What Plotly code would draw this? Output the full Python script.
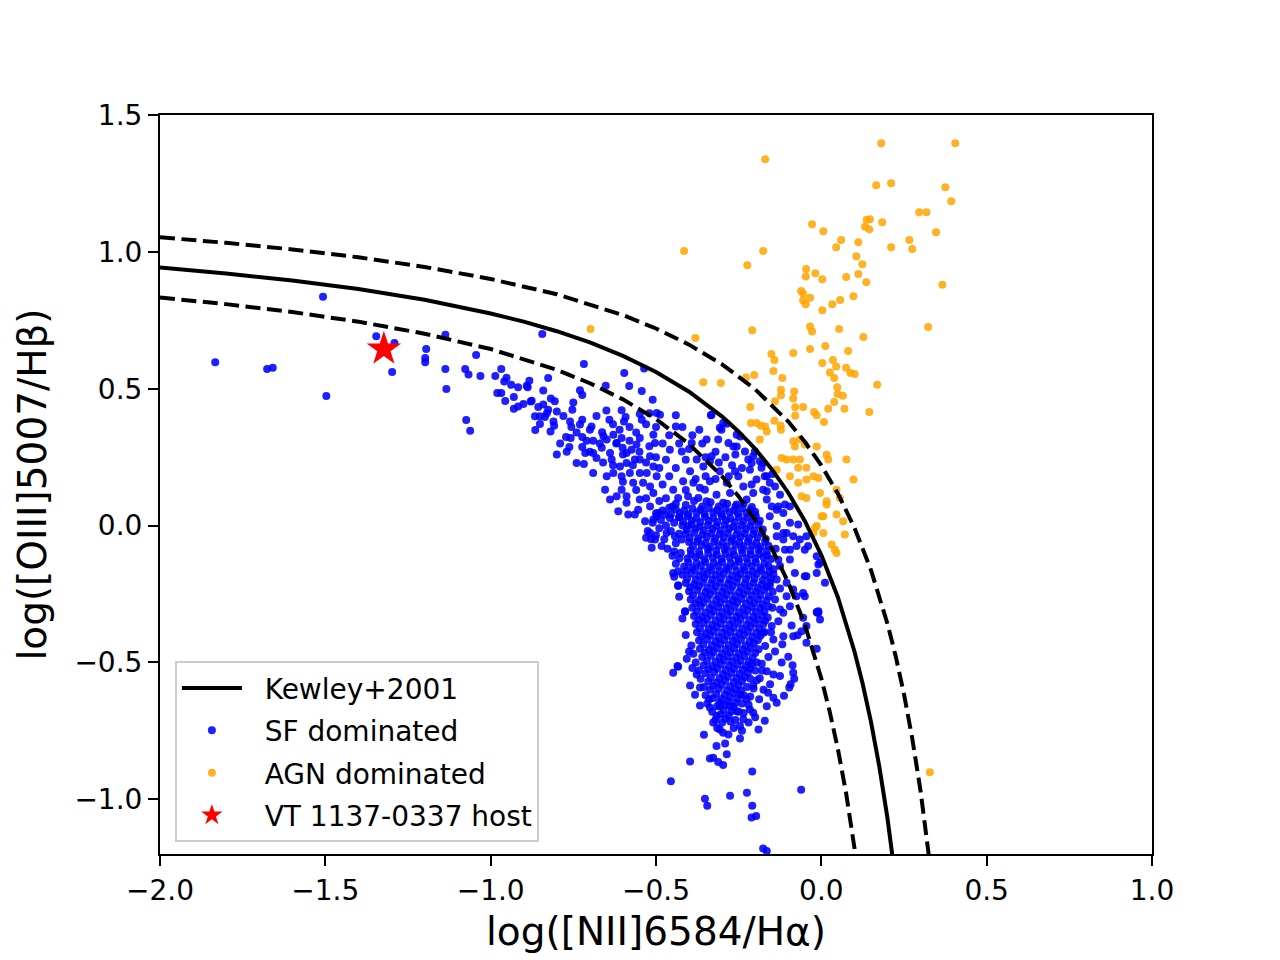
import plotly.graph_objects as go

# Kewley+2001 maximum starburst line and the +/-0.1 dex dashed envelopes
kewley_x = [-2.0, -1.8, -1.6, -1.4, -1.2, -1.0, -0.9, -0.8, -0.7, -0.6, -0.5, -0.4, -0.3, -0.25,
            -0.2, -0.15, -0.1, -0.05, 0.0, 0.05, 0.1, 0.125, 0.15, 0.175, 0.2, 0.215, 0.225]
kewley_y = [0.943, 0.921, 0.895, 0.864, 0.825, 0.775, 0.745, 0.710, 0.669, 0.620, 0.561, 0.489, 0.398, 0.343,
            0.280, 0.206, 0.120, 0.017, -0.108, -0.262, -0.459, -0.578, -0.716, -0.878, -1.069, -1.202, -1.300]

upper_x = [-2.0, -1.8, -1.6, -1.4, -1.2, -1.0, -0.8, -0.6, -0.5, -0.4, -0.3, -0.2, -0.1, -0.05,
           0.0, 0.05, 0.1, 0.15, 0.2, 0.225, 0.25, 0.275, 0.3, 0.315, 0.33]
upper_y = [1.053, 1.033, 1.009, 0.980, 0.945, 0.901, 0.845, 0.769, 0.720, 0.661, 0.589, 0.498, 0.380, 0.306,
           0.220, 0.117, -0.008, -0.162, -0.359, -0.478, -0.616, -0.778, -0.969, -1.102, -1.252]

lower_x = [-2.0, -1.8, -1.6, -1.4, -1.2, -1.0, -0.8, -0.7, -0.6, -0.5, -0.4, -0.3, -0.25, -0.2,
           -0.15, -0.1, -0.05, 0.0, 0.025, 0.05, 0.075, 0.1, 0.11]
lower_y = [0.833, 0.809, 0.780, 0.745, 0.701, 0.645, 0.569, 0.520, 0.461, 0.389, 0.298, 0.180, 0.106, 0.020,
           -0.083, -0.208, -0.362, -0.559, -0.678, -0.816, -0.978, -1.169, -1.256]

# star-forming galaxies
sf_points = [
    (-1.507, 0.836), (-1.833, 0.597), (-1.676, 0.572), (-1.659, 0.577), (-1.497, 0.473), (-1.346, 0.692),
    (-1.291, 0.667), (-1.298, 0.561), (-1.195, 0.645), (-1.198, 0.612), (-1.198, 0.597), (-1.137, 0.697),
    (-1.137, 0.572), (-1.134, 0.499), (-1.044, 0.623), (-1.077, 0.572), (-1.067, 0.552), (-1.031, 0.546),
    (-1.074, 0.386), (-1.062, 0.346), (-0.844, 0.700), (-0.986, 0.546), (-0.968, 0.572), (-0.952, 0.540),
    (-0.959, 0.526), (-0.938, 0.514), (-0.917, 0.505), (-0.891, 0.511), (-0.883, 0.529), (-0.888, 0.505),
    (-0.980, 0.484), (-0.968, 0.484), (-0.930, 0.470), (-0.956, 0.455), (-0.930, 0.427), (-0.917, 0.435),
    (-0.901, 0.444), (-0.879, 0.453), (-0.876, 0.456), (-0.841, 0.493), (-0.826, 0.539), (-0.856, 0.433),
    (-0.841, 0.442), (-0.818, 0.464), (-0.806, 0.454), (-0.826, 0.423), (-0.800, 0.417), (-0.866, 0.399),
    (-0.851, 0.399), (-0.836, 0.397), (-0.851, 0.371), (-0.865, 0.349), (-0.808, 0.365), (-0.819, 0.344),
    (-0.800, 0.260),
    (-0.718, 0.590), (-0.596, 0.557), (-0.536, 0.574), (-0.581, 0.510), (-0.543, 0.492), (-0.652, 0.511),
    (-0.730, 0.494), (-0.723, 0.477), (-0.753, 0.423), (-0.510, 0.460), (-0.604, 0.421), (-0.592, 0.397),
    (-0.597, 0.380), (-0.549, 0.408), (-0.543, 0.387), (-0.641, 0.387), (-0.723, 0.387), (-0.730, 0.369),
    (-0.756, 0.360), (-0.695, 0.362), (-0.772, 0.324), (-0.758, 0.320), (-0.762, 0.287), (-0.723, 0.324),
    (-0.723, 0.287), (-0.714, 0.265), (-0.740, 0.229), (-0.718, 0.225), (-0.690, 0.192), (-0.690, 0.265),
    (-0.680, 0.247), (-0.663, 0.341), (-0.659, 0.326), (-0.664, 0.284), (-0.649, 0.314), (-0.629, 0.332),
    (-0.619, 0.302), (-0.639, 0.265), (-0.634, 0.241), (-0.604, 0.320), (-0.601, 0.284), (-0.589, 0.265),
    (-0.574, 0.277), (-0.559, 0.296), (-0.549, 0.320), (-0.508, 0.332), (-0.503, 0.302), (-0.518, 0.253),
    (-0.549, 0.241), (-0.564, 0.241), (-0.589, 0.229), (-0.609, 0.216), (-0.629, 0.192), (-0.649, 0.180),
    (-0.604, 0.180), (-0.579, 0.192), (-0.549, 0.192), (-0.528, 0.192), (-0.508, 0.216), (-0.498, 0.180),
    (-0.569, 0.156), (-0.539, 0.156), (-0.518, 0.143), (-0.604, 0.131), (-0.654, 0.131), (-0.639, 0.095),
    (-0.619, 0.107), (-0.589, 0.107), (-0.549, 0.095), (-0.508, 0.119), (-0.614, 0.052), (-0.584, 0.040),
    (-0.554, 0.058), (-0.518, 0.070), (-0.498, 0.034),
    (-0.620, 0.300), (-0.600, 0.260), (-0.580, 0.310), (-0.570, 0.220), (-0.550, 0.270), (-0.530, 0.230),
    (-0.520, 0.290), (-0.500, 0.250), (-0.490, 0.210), (-0.470, 0.240), (-0.480, 0.150), (-0.460, 0.180),
    (-0.440, 0.210), (-0.470, 0.100), (-0.450, 0.070), (-0.490, 0.090), (-0.530, 0.100), (-0.560, 0.130),
    (-0.600, 0.160), (-0.630, 0.220), (-0.660, 0.230), (-0.670, 0.300), (-0.690, 0.310), (-0.700, 0.350),
    (-0.680, 0.400), (-0.650, 0.420), (-0.630, 0.370), (-0.610, 0.350), (-0.580, 0.360), (-0.560, 0.340),
    (-0.530, 0.370), (-0.520, 0.410), (-0.500, 0.360), (-0.480, 0.300), (-0.460, 0.330), (-0.430, 0.300),
    (-0.410, 0.240), (-0.400, 0.280), (-0.420, 0.360), (-0.390, 0.330), (-0.360, 0.300), (-0.350, 0.250),
    (-0.320, 0.270), (-0.310, 0.230), (-0.290, 0.250), (-0.270, 0.220), (-0.260, 0.260), (-0.240, 0.210),
    (-0.280, 0.180), (-0.320, 0.170), (-0.350, 0.180), (-0.380, 0.170), (-0.410, 0.130),
    (-0.780, 0.400), (-0.760, 0.380), (-0.740, 0.340), (-0.790, 0.300), (-0.770, 0.270), (-0.710, 0.310),
    (-0.700, 0.270), (-0.750, 0.450), (-0.810, 0.380), (-0.830, 0.410),
    (-0.498, 0.411), (-0.488, 0.405), (-0.440, 0.403), (-0.334, 0.403), (-0.440, 0.362), (-0.369, 0.350),
    (-0.307, 0.357), (-0.286, 0.372), (-0.347, 0.314), (-0.332, 0.253), (-0.312, 0.314), (-0.332, 0.405),
    (-0.297, 0.375), (-0.302, 0.350), (-0.256, 0.332), (-0.245, 0.325), (-0.266, 0.289), (-0.231, 0.271),
    (-0.206, 0.253), (-0.211, 0.229), (-0.186, 0.235), (-0.181, 0.211), (-0.171, 0.180), (-0.148, 0.188),
    (-0.156, 0.156), (-0.125, 0.113), (-0.165, 0.125), (-0.130, 0.070), (-0.115, 0.046), (-0.095, 0.070),
    (-0.070, 0.004), (-0.095, 0.010), (-0.115, -0.027), (-0.135, -0.039), (-0.095, -0.088), (-0.040, -0.075),
    (-0.009, -0.142), (0.011, -0.209), (-0.009, -0.313),
    (-0.458, 0.277), (-0.422, 0.271), (-0.392, 0.302), (-0.377, 0.241), (-0.357, 0.216), (-0.337, 0.235),
    (-0.307, 0.198), (-0.397, 0.198), (-0.418, 0.162), (-0.387, 0.156), (-0.367, 0.138), (-0.352, 0.131),
    (-0.337, 0.162), (-0.448, 0.131), (-0.433, 0.101), (-0.403, 0.107), (-0.372, 0.101), (-0.347, 0.089),
    (-0.317, 0.113), (-0.286, 0.156), (-0.261, 0.198), (-0.251, 0.180), (-0.276, 0.119), (-0.297, 0.083),
    (-0.256, 0.077), (-0.226, 0.095), (-0.206, 0.119), (-0.236, 0.143), (-0.211, 0.150), (-0.281, 0.302),
    (-0.256, 0.289), (-0.221, 0.241), (-0.216, 0.204), (-0.196, 0.168), (-0.176, 0.131), (-0.165, 0.095),
    (-0.150, 0.070), (-0.135, 0.058), (-0.110, 0.077), (-0.165, 0.180), (-0.140, 0.143), (-0.176, 0.229),
    (-0.201, 0.271),
    (-0.156, 0.034), (-0.135, -0.002), (-0.115, -0.051), (-0.105, -0.027), (-0.085, -0.039), (-0.065, -0.051),
    (-0.050, -0.088), (-0.045, -0.039), (-0.075, -0.075), (-0.110, -0.088), (-0.095, -0.124), (-0.125, -0.148),
    (-0.080, -0.173), (-0.050, -0.185), (-0.014, -0.173), (-0.004, -0.136), (-0.014, -0.112), (-0.135, -0.197),
    (-0.156, -0.221), (-0.105, -0.209), (-0.085, -0.234), (-0.140, -0.270), (-0.105, -0.258), (-0.075, -0.258),
    (-0.125, -0.307), (-0.095, -0.295), (-0.115, -0.319), (-0.055, -0.246), (-0.009, -0.319), (-0.004, -0.343),
    (-0.045, -0.367), (-0.085, -0.404), (-0.150, -0.367), (-0.176, -0.392), (-0.145, -0.416), (-0.045, -0.185),
    (-0.014, -0.316), (-0.050, -0.258), (-0.055, -0.337),
    (-0.589, 0.083), (-0.564, 0.040), (-0.533, 0.016), (-0.508, 0.022), (-0.493, 0.046), (-0.473, 0.040),
    (-0.458, 0.028), (-0.503, -0.051), (-0.483, -0.075), (-0.513, -0.081), (-0.468, -0.027), (-0.443, -0.039),
    (-0.422, -0.051), (-0.403, -0.002), (-0.518, -0.027), (-0.448, -0.173), (-0.433, -0.221), (-0.412, -0.313),
    (-0.445, -0.187), (-0.433, -0.167), (-0.433, -0.218), (-0.435, -0.513),
    (-0.455, -0.934), (-0.352, -0.998), (-0.345, -1.024), (-0.276, -0.987), (-0.225, -0.976), (-0.209, -1.024),
    (-0.211, -1.067), (-0.197, -1.061), (-0.209, -0.899), (-0.061, -0.965), (-0.176, -1.180), (-0.165, -1.189),
    (-0.397, -0.862), (-0.317, -0.805), (-0.337, -0.851), (-0.327, -0.848), (-0.297, -0.875), (-0.312, -0.864),
    (-0.286, -0.836), (-0.355, -0.764), (-0.246, -0.778), (-0.291, -0.796), (-0.281, -0.763), (-0.297, -0.757),
    (-0.171, -0.713), (-0.246, -0.732), (-0.236, -0.708), (-0.327, -0.720), (-0.307, -0.745), (-0.317, -0.696),
    (-0.206, -0.684), (-0.216, -0.672), (-0.256, -0.678), (-0.276, -0.659), (-0.307, -0.659), (-0.337, -0.665),
    (-0.367, -0.657), (-0.397, -0.584), (-0.382, -0.618), (-0.367, -0.592), (-0.448, -0.538), (-0.433, -0.516),
    (-0.407, -0.487), (-0.393, -0.438), (-0.387, -0.468), (-0.412, -0.315), (-0.377, -0.544), (-0.339, -0.635),
    (-0.226, -0.635), (-0.188, -0.635), (-0.161, -0.611), (-0.145, -0.629), (-0.135, -0.647), (-0.113, -0.622),
    (-0.097, -0.592), (-0.093, -0.580), (-0.082, -0.560), (-0.085, -0.538), (-0.087, -0.510), (-0.100, -0.479),
    (-0.118, -0.434), (-0.115, -0.404), (-0.090, -0.365), (-0.072, -0.401), (-0.060, -0.386), (-0.045, -0.428),
    (-0.014, -0.450), (-0.012, -0.319), (-0.125, -0.550), (-0.145, -0.544), (-0.165, -0.532), (-0.186, -0.558),
    (-0.206, -0.584),
]

# dense core of the star-forming branch
sf_core = [
    (-0.410, 0.075), (-0.385, 0.090), (-0.360, 0.070), (-0.335, 0.085), (-0.310, 0.070), (-0.285, 0.080),
    (-0.260, 0.070), (-0.235, 0.080), (-0.210, 0.068), (-0.200, 0.050),
    (-0.525, -0.020), (-0.510, 0.010), (-0.500, -0.035), (-0.485, 0.020), (-0.475, -0.050), (-0.470, 0.000),
    (-0.455, 0.040), (-0.455, -0.020), (-0.440, -0.065), (-0.445, 0.010), (-0.430, 0.030), (-0.430, -0.030),
    (-0.490, -0.010), (-0.515, -0.050), (-0.500, 0.045), (-0.480, 0.055), (-0.460, 0.065), (-0.440, 0.080),
    (-0.465, -0.085), (-0.450, -0.110), (-0.440, -0.140), (-0.445, -0.095), (-0.430, -0.120), (-0.530, -0.045),
    (-0.440, 0.060), (-0.415, 0.055), (-0.390, 0.062), (-0.365, 0.058), (-0.340, 0.064), (-0.315, 0.057),
    (-0.290, 0.061), (-0.265, 0.055), (-0.240, 0.063), (-0.215, 0.058),
    (-0.428, 0.045), (-0.402, 0.041), (-0.377, 0.048), (-0.353, 0.043), (-0.327, 0.047), (-0.303, 0.042),
    (-0.278, 0.049), (-0.252, 0.044), (-0.227, 0.046), (-0.205, 0.041),
    (-0.430, 0.030), (-0.405, 0.034), (-0.378, 0.027), (-0.352, 0.032), (-0.327, 0.028), (-0.300, 0.033),
    (-0.275, 0.026), (-0.250, 0.031), (-0.224, 0.029), (-0.198, 0.035),
    (-0.418, 0.015), (-0.392, 0.018), (-0.366, 0.012), (-0.340, 0.017), (-0.314, 0.013), (-0.288, 0.019),
    (-0.262, 0.012), (-0.236, 0.016), (-0.210, 0.014), (-0.186, 0.018),
    (-0.420, 0.000), (-0.392, 0.004), (-0.368, -0.003), (-0.343, 0.002), (-0.318, -0.002), (-0.292, 0.003),
    (-0.266, -0.004), (-0.241, 0.001), (-0.215, -0.002), (-0.190, 0.004),
    (-0.407, -0.015), (-0.380, -0.012), (-0.355, -0.018), (-0.329, -0.013), (-0.304, -0.017), (-0.279, -0.011),
    (-0.253, -0.016), (-0.228, -0.013), (-0.203, -0.018), (-0.177, -0.014),
    (-0.410, -0.030), (-0.385, -0.026), (-0.360, -0.033), (-0.333, -0.028), (-0.308, -0.032), (-0.283, -0.027),
    (-0.257, -0.034), (-0.232, -0.029), (-0.206, -0.031), (-0.180, -0.027),
    (-0.398, -0.045), (-0.372, -0.048), (-0.346, -0.042), (-0.321, -0.047), (-0.295, -0.043), (-0.270, -0.048),
    (-0.244, -0.041), (-0.219, -0.046), (-0.193, -0.044), (-0.168, -0.049),
    (-0.400, -0.060), (-0.375, -0.057), (-0.350, -0.063), (-0.324, -0.058), (-0.298, -0.062), (-0.273, -0.056),
    (-0.248, -0.061), (-0.222, -0.058), (-0.197, -0.063), (-0.170, -0.059),
    (-0.388, -0.075), (-0.362, -0.072), (-0.337, -0.078), (-0.311, -0.073), (-0.286, -0.077), (-0.260, -0.071),
    (-0.235, -0.076), (-0.209, -0.073), (-0.184, -0.078), (-0.160, -0.074),
    (-0.395, -0.090), (-0.370, -0.094), (-0.343, -0.087), (-0.318, -0.092), (-0.292, -0.088), (-0.267, -0.093),
    (-0.241, -0.087), (-0.215, -0.091), (-0.190, -0.088), (-0.165, -0.094),
    (-0.394, -0.105), (-0.368, -0.108), (-0.342, -0.102), (-0.316, -0.107), (-0.290, -0.103), (-0.264, -0.108),
    (-0.239, -0.101), (-0.213, -0.106), (-0.188, -0.104), (-0.164, -0.109),
    (-0.405, -0.120), (-0.380, -0.116), (-0.354, -0.123), (-0.328, -0.118), (-0.302, -0.122), (-0.277, -0.117),
    (-0.251, -0.123), (-0.226, -0.119), (-0.200, -0.121), (-0.175, -0.116), (-0.152, -0.122),
    (-0.402, -0.135), (-0.377, -0.138), (-0.351, -0.132), (-0.325, -0.137), (-0.300, -0.133), (-0.274, -0.138),
    (-0.249, -0.131), (-0.223, -0.136), (-0.198, -0.134), (-0.172, -0.139),
    (-0.415, -0.150), (-0.390, -0.154), (-0.364, -0.147), (-0.338, -0.152), (-0.312, -0.148), (-0.287, -0.153),
    (-0.262, -0.147), (-0.236, -0.152), (-0.210, -0.149), (-0.185, -0.154), (-0.160, -0.148),
    (-0.408, -0.165), (-0.382, -0.162), (-0.357, -0.168), (-0.332, -0.163), (-0.307, -0.167), (-0.282, -0.161),
    (-0.257, -0.166), (-0.232, -0.163), (-0.207, -0.168), (-0.182, -0.164), (-0.157, -0.167),
    (-0.420, -0.180), (-0.394, -0.176), (-0.370, -0.183), (-0.345, -0.178), (-0.320, -0.182), (-0.295, -0.177),
    (-0.270, -0.183), (-0.245, -0.178), (-0.220, -0.181), (-0.195, -0.176), (-0.170, -0.182), (-0.145, -0.178),
    (-0.406, -0.195), (-0.380, -0.198), (-0.354, -0.192), (-0.329, -0.197), (-0.304, -0.193), (-0.278, -0.198),
    (-0.253, -0.191), (-0.228, -0.196), (-0.202, -0.194), (-0.177, -0.199), (-0.153, -0.193),
    (-0.410, -0.210), (-0.384, -0.214), (-0.358, -0.207), (-0.333, -0.212), (-0.307, -0.208), (-0.282, -0.213),
    (-0.256, -0.207), (-0.231, -0.212), (-0.205, -0.209), (-0.180, -0.214), (-0.155, -0.208),
    (-0.396, -0.225), (-0.370, -0.222), (-0.345, -0.228), (-0.319, -0.223), (-0.294, -0.227), (-0.268, -0.221),
    (-0.243, -0.226), (-0.217, -0.223), (-0.192, -0.228), (-0.166, -0.224),
    (-0.400, -0.240), (-0.375, -0.236), (-0.350, -0.243), (-0.325, -0.238), (-0.300, -0.242), (-0.274, -0.237),
    (-0.249, -0.243), (-0.223, -0.238), (-0.198, -0.241), (-0.172, -0.236), (-0.147, -0.242),
    (-0.388, -0.255), (-0.362, -0.258), (-0.337, -0.252), (-0.311, -0.257), (-0.286, -0.253), (-0.261, -0.258),
    (-0.235, -0.251), (-0.210, -0.256), (-0.184, -0.254), (-0.159, -0.259),
    (-0.395, -0.270), (-0.370, -0.274), (-0.344, -0.267), (-0.318, -0.272), (-0.293, -0.268), (-0.268, -0.273),
    (-0.242, -0.267), (-0.217, -0.272), (-0.191, -0.269), (-0.166, -0.274),
    (-0.381, -0.285), (-0.356, -0.282), (-0.330, -0.288), (-0.305, -0.283), (-0.279, -0.287), (-0.254, -0.281),
    (-0.228, -0.286), (-0.203, -0.283), (-0.178, -0.288),
    (-0.390, -0.300), (-0.365, -0.296), (-0.338, -0.303), (-0.312, -0.298), (-0.287, -0.302), (-0.262, -0.297),
    (-0.236, -0.303), (-0.210, -0.298), (-0.185, -0.301), (-0.160, -0.296),
    (-0.376, -0.315), (-0.351, -0.318), (-0.325, -0.312), (-0.300, -0.317), (-0.274, -0.313), (-0.249, -0.318),
    (-0.223, -0.311), (-0.198, -0.316), (-0.172, -0.314),
    (-0.385, -0.330), (-0.360, -0.334), (-0.334, -0.327), (-0.308, -0.332), (-0.283, -0.328), (-0.257, -0.333),
    (-0.232, -0.327), (-0.206, -0.332), (-0.180, -0.329), (-0.162, -0.336),
    (-0.371, -0.345), (-0.346, -0.342), (-0.320, -0.348), (-0.295, -0.343), (-0.269, -0.347), (-0.244, -0.341),
    (-0.218, -0.346), (-0.193, -0.343), (-0.170, -0.348),
    (-0.380, -0.360), (-0.355, -0.356), (-0.330, -0.363), (-0.304, -0.358), (-0.278, -0.362), (-0.252, -0.357),
    (-0.227, -0.363), (-0.201, -0.358), (-0.176, -0.361),
    (-0.367, -0.375), (-0.341, -0.378), (-0.316, -0.372), (-0.290, -0.377), (-0.265, -0.373), (-0.239, -0.378),
    (-0.214, -0.371), (-0.188, -0.376),
    (-0.376, -0.390), (-0.350, -0.394), (-0.325, -0.387), (-0.300, -0.392), (-0.274, -0.388), (-0.248, -0.393),
    (-0.222, -0.387), (-0.197, -0.392), (-0.172, -0.389),
    (-0.362, -0.405), (-0.336, -0.402), (-0.311, -0.408), (-0.285, -0.403), (-0.260, -0.407), (-0.234, -0.401),
    (-0.209, -0.406), (-0.184, -0.403),
    (-0.370, -0.420), (-0.345, -0.416), (-0.320, -0.423), (-0.294, -0.418), (-0.268, -0.422), (-0.243, -0.417),
    (-0.217, -0.423), (-0.192, -0.418),
    (-0.357, -0.435), (-0.331, -0.438), (-0.306, -0.432), (-0.280, -0.437), (-0.255, -0.433), (-0.229, -0.438),
    (-0.204, -0.431),
    (-0.367, -0.450), (-0.340, -0.454), (-0.315, -0.447), (-0.290, -0.452), (-0.264, -0.448), (-0.238, -0.453),
    (-0.213, -0.447), (-0.190, -0.452),
    (-0.352, -0.465), (-0.326, -0.462), (-0.300, -0.468), (-0.275, -0.463), (-0.249, -0.467), (-0.224, -0.461),
    (-0.200, -0.466),
    (-0.360, -0.480), (-0.334, -0.476), (-0.308, -0.483), (-0.283, -0.478), (-0.258, -0.482), (-0.233, -0.477),
    (-0.208, -0.483),
    (-0.346, -0.495), (-0.320, -0.498), (-0.295, -0.492), (-0.270, -0.497), (-0.244, -0.493), (-0.219, -0.498),
    (-0.356, -0.510), (-0.330, -0.514), (-0.304, -0.507), (-0.279, -0.512), (-0.253, -0.508), (-0.228, -0.513),
    (-0.210, -0.507),
    (-0.341, -0.525), (-0.315, -0.522), (-0.290, -0.528), (-0.264, -0.523), (-0.238, -0.527), (-0.215, -0.521),
    (-0.350, -0.540), (-0.324, -0.536), (-0.298, -0.543), (-0.272, -0.538), (-0.247, -0.542), (-0.222, -0.537),
    (-0.334, -0.555), (-0.308, -0.558), (-0.283, -0.552), (-0.257, -0.557), (-0.232, -0.553),
    (-0.342, -0.570), (-0.317, -0.574), (-0.291, -0.567), (-0.265, -0.572), (-0.240, -0.568),
    (-0.327, -0.585), (-0.301, -0.582), (-0.276, -0.588), (-0.250, -0.583),
    (-0.336, -0.600), (-0.310, -0.596), (-0.285, -0.603), (-0.260, -0.598), (-0.243, -0.604),
    (-0.318, -0.615), (-0.292, -0.618), (-0.267, -0.612), (-0.245, -0.617),
    (-0.328, -0.630), (-0.302, -0.634), (-0.277, -0.627), (-0.254, -0.632),
    (-0.308, -0.645), (-0.283, -0.642), (-0.260, -0.648),
    (-0.315, -0.660), (-0.290, -0.656), (-0.266, -0.663),
    (-0.296, -0.675), (-0.272, -0.678),
    (-0.305, -0.690), (-0.280, -0.694),
    (-0.290, -0.705),
    (-0.300, -0.720), (-0.275, -0.716),
    # ragged edges of the core
    (-0.380, -0.500), (-0.195, -0.500), (-0.180, -0.505), (-0.370, -0.530), (-0.200, -0.530),
    (-0.365, -0.560), (-0.215, -0.560), (-0.195, -0.565), (-0.355, -0.590), (-0.225, -0.590),
    (-0.205, -0.595), (-0.350, -0.620), (-0.235, -0.620), (-0.215, -0.625), (-0.345, -0.650),
    (-0.240, -0.650), (-0.220, -0.655), (-0.330, -0.680), (-0.250, -0.680), (-0.235, -0.685),
    (-0.320, -0.710), (-0.260, -0.710), (-0.315, -0.740), (-0.265, -0.740),
    (-0.138, -0.085), (-0.130, -0.125), (-0.145, -0.160), (-0.125, -0.230), (-0.148, -0.300),
    (-0.130, -0.350), (-0.152, -0.390), (-0.140, -0.460), (-0.160, -0.480), (-0.170, -0.440),
    (-0.120, -0.500), (-0.155, -0.580), (-0.175, -0.600), (-0.180, -0.530), (-0.165, -0.660),
    (-0.200, -0.700), (-0.220, -0.720), (-0.240, -0.750), (-0.190, -0.745),
    (-0.425, -0.100), (-0.430, -0.260), (-0.420, -0.340), (-0.410, -0.400), (-0.400, -0.460),
    (-0.390, -0.520),
]

# AGN-dominated galaxies
agn_points = [
    (0.181, 1.397), (0.405, 1.397), (-0.170, 1.338), (0.166, 1.243), (0.211, 1.251), (0.375, 1.236),
    (0.393, 1.185), (0.296, 1.145), (0.318, 1.145), (-0.028, 1.101), (0.006, 1.075), (0.137, 1.117),
    (0.147, 1.119), (0.132, 1.092), (0.145, 1.083), (0.184, 1.108), (0.347, 1.072), (0.060, 1.043),
    (0.045, 1.017), (0.112, 1.035), (0.266, 1.043), (0.275, 1.010), (0.211, 1.017), (-0.415, 1.003),
    (-0.176, 1.003), (-0.224, 0.951), (0.106, 0.984), (0.124, 0.955), (0.112, 0.919), (0.136, 0.889),
    (0.075, 0.908), (-0.046, 0.937), (-0.047, 0.910), (-0.018, 0.922), (0.003, 0.900), (0.366, 0.880),
    (-0.061, 0.857), (-0.055, 0.847), (-0.034, 0.832), (-0.055, 0.822), (-0.047, 0.809), (0.003, 0.787),
    (0.033, 0.809), (0.057, 0.824), (0.097, 0.838), (0.323, 0.725), (-0.209, 0.714), (-0.381, 0.685),
    (-0.034, 0.727), (-0.028, 0.709), (0.054, 0.718), (0.127, 0.689), (0.012, 0.656), (-0.034, 0.645),
    (0.081, 0.638), (-0.085, 0.630), (-0.151, 0.627), (-0.142, 0.605), (0.003, 0.594), (0.035, 0.605),
    (0.045, 0.581), (0.026, 0.559), (0.039, 0.539), (0.075, 0.577), (0.088, 0.557), (0.101, 0.554),
    (-0.145, 0.565), (-0.118, 0.539), (-0.203, 0.550), (-0.228, 0.541), (-0.357, 0.524), (-0.304, 0.521),
    (0.169, 0.514), (-0.122, 0.496), (-0.122, 0.476), (-0.082, 0.490), (-0.085, 0.464), (0.048, 0.505),
    (0.049, 0.481), (0.065, 0.474), (0.039, 0.451), (0.070, 0.427), (0.021, 0.427), (0.145, 0.415),
    (-0.215, 0.433), (-0.140, 0.454), (-0.079, 0.432), (-0.055, 0.433), (-0.079, 0.401), (-0.022, 0.415),
    (-0.014, 0.403), (0.008, 0.378), (-0.213, 0.375), (-0.196, 0.375), (-0.183, 0.365), (-0.142, 0.383),
    (-0.123, 0.366), (-0.698, 0.718),
    (-0.170, 0.362), (-0.165, 0.344), (-0.186, 0.314), (-0.122, 0.350), (-0.085, 0.308), (-0.080, 0.289),
    (-0.065, 0.314), (-0.050, 0.296), (-0.014, 0.289), (0.016, 0.259), (0.021, 0.241), (0.076, 0.241),
    (-0.120, 0.247), (-0.105, 0.241), (-0.085, 0.241), (-0.065, 0.241), (-0.045, 0.211), (-0.045, 0.168),
    (-0.024, 0.180), (-0.009, 0.174), (-0.070, 0.211), (-0.095, 0.180), (-0.135, 0.204), (-0.070, 0.156),
    (-0.060, 0.107), (-0.004, 0.119), (0.016, 0.077), (0.046, 0.131), (0.056, 0.101), (0.097, 0.168),
    (0.006, 0.034), (0.046, 0.040), (0.066, 0.016), (-0.014, -0.002), (-0.024, -0.027), (0.006, -0.027),
    (0.071, -0.033), (0.031, -0.069), (0.041, -0.088), (-0.045, 0.101), (0.016, 0.089), (0.001, 0.034),
    (-0.019, -0.008), (0.046, -0.100), (0.328, -0.901),
]

host_x = [-1.323]
host_y = [0.645]

sf_x = [p[0] for p in sf_points + sf_core]
sf_y = [p[1] for p in sf_points + sf_core]
agn_x = [p[0] for p in agn_points]
agn_y = [p[1] for p in agn_points]

pad = "\u00a0\u00a0"

fig = go.Figure()

fig.add_trace(go.Scatter(x=sf_x, y=sf_y, mode="markers", name=pad + "SF dominated",
                         legendrank=2, legendgroup="sf",
                         marker=dict(color="blue", size=8, opacity=0.88, line=dict(width=0))))
fig.add_trace(go.Scatter(x=agn_x, y=agn_y, mode="markers", name=pad + "AGN dominated",
                         legendrank=3, legendgroup="agn",
                         marker=dict(color="orange", size=8, opacity=0.85, line=dict(width=0))))
fig.add_trace(go.Scatter(x=kewley_x, y=kewley_y, mode="lines", name=pad + "Kewley+2001",
                         legendrank=1, legendgroup="kew",
                         line=dict(color="black", width=4)))
fig.add_trace(go.Scatter(x=upper_x, y=upper_y, mode="lines", showlegend=False, legendgroup="kew",
                         line=dict(color="black", width=4, dash="15px,6.5px")))
fig.add_trace(go.Scatter(x=lower_x, y=lower_y, mode="lines", showlegend=False, legendgroup="kew",
                         line=dict(color="black", width=4, dash="15px,6.5px")))
fig.add_trace(go.Scatter(x=host_x, y=host_y, mode="markers", name=pad + "VT 1137-0337 host",
                         legendrank=4, legendgroup="host",
                         marker=dict(color="red", size=26, symbol="star", line=dict(width=0))))

axis_style = dict(
    showline=True, linecolor="black", linewidth=2, mirror=True,
    ticks="outside", ticklen=10, tickwidth=2, tickcolor="black",
    showgrid=False, zeroline=False, tickformat=".1f",
    tickfont=dict(size=28, color="black"),
)

fig.update_xaxes(range=[-2.0, 1.0], dtick=0.5, tick0=-2.0,
                 title=dict(text="log([NII]6584/Hα)", font=dict(size=39, color="black"), standoff=12),
                 **axis_style)
fig.update_yaxes(range=[-1.2, 1.5], dtick=0.5, tick0=-1.0,
                 title=dict(text="log([OIII]5007/Hβ)", font=dict(size=39, color="black"), standoff=16),
                 **axis_style)

fig.update_layout(
    width=1280, height=960,
    margin=dict(l=152, r=136, t=107, b=114),
    paper_bgcolor="white", plot_bgcolor="white",
    font=dict(family="DejaVu Sans", color="black"),
    showlegend=True,
    legend=dict(
        x=0.015, y=0.016, xanchor="left", yanchor="bottom",
        bgcolor="rgba(255,255,255,0.8)", bordercolor="#cccccc", borderwidth=2,
        font=dict(size=28, color="black"), itemwidth=60, itemsizing="trace",
        traceorder="grouped", tracegroupgap=3,
    ),
)

fig.write_html("out.html")
